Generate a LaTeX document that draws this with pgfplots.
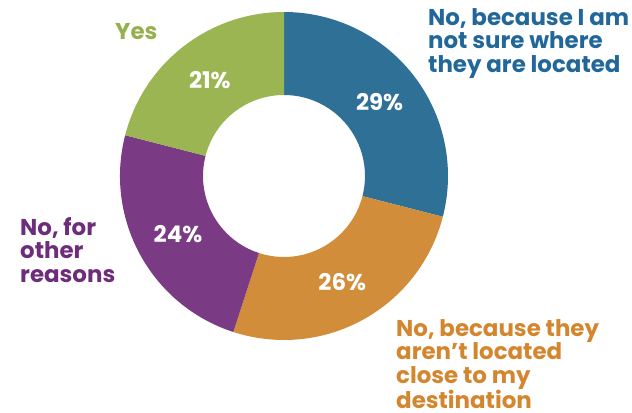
\documentclass[border=0pt]{standalone}
\usepackage{pgfplots}
\pgfplotsset{compat=1.18}
\usepackage{pgfplotstable}
\usetikzlibrary{calc}
\usepackage{fontspec}
\setmainfont{Poppins}
\definecolor{c0}{HTML}{2E7096}
\definecolor{c1}{HTML}{D18D3A}
\definecolor{c2}{HTML}{7B3B84}
\definecolor{c3}{HTML}{9BB552}
\definecolor{t0}{HTML}{22679A}
\definecolor{t1}{HTML}{D4862F}
\definecolor{t2}{HTML}{6E2D7A}
\definecolor{t3}{HTML}{95B04D}
\newcommand\pctfont{\fontsize{23}{24}\selectfont\bfseries\upshape}
\newcommand\labfont{\fontsize{23}{23.6}\selectfont\bfseries\upshape}
\pgfplotstableread{
idx pct
0 29
1 26
2 24
3 21
}\piedata
\begin{document}
\begin{tikzpicture}
\begin{axis}[
  hide axis, scale only axis,
  width=632bp, height=413bp,
  xmin=0, xmax=632, ymin=0, ymax=413,
  clip=false,
]
\def\cx{284}\def\cy{237}
\def\Ro{164}\def\Ri{81}
\def\start{90}
\pgfplotsforeachungrouped \i in {0,1,2,3}{%
  \pgfplotstablegetelem{\i}{pct}\of\piedata
  \let\p=\pgfplotsretval
  \pgfmathsetmacro{\en}{\start-\p*3.6}%
  \pgfmathsetmacro{\mid}{(\start+\en)/2}%
  \pgfmathsetmacro{\dr}{\Ri-\Ro}%
  \edef\temp{\noexpand\fill[c\i] (axis cs:\cx,\cy) ++(\start:\Ro bp) arc[start angle=\start, end angle=\en, radius=\Ro bp] -- ++(\en:\dr bp) arc[start angle=\en, end angle=\start, radius=\Ri bp] -- cycle;
  \noexpand\node[text=white, inner sep=0pt, font=\noexpand\pctfont] at ($(axis cs:\cx,\cy)+(\mid:121bp)$) {\p\noexpand\%};}%
  \temp
  \global\let\start=\en
}
\begin{scope}[every node/.style={inner sep=0pt, align=left, font=\labfont}]
\node[anchor=north west, text=t0] at (axis cs:428,405) {No, because I am\\not sure where\\they are located};
\node[anchor=north west, text=t1] at (axis cs:396,94) {No, because they\\aren’t located\\close to my\\destination};
\node[anchor=north west, text=t2] at (axis cs:20,196) {No, for\\other\\reasons};
\node[anchor=north west, text=t3] at (axis cs:115,390) {Yes};
\end{scope}
\end{axis}
\pgfresetboundingbox
\path (current axis.south west) rectangle (current axis.north east);
\end{tikzpicture}
\end{document}
